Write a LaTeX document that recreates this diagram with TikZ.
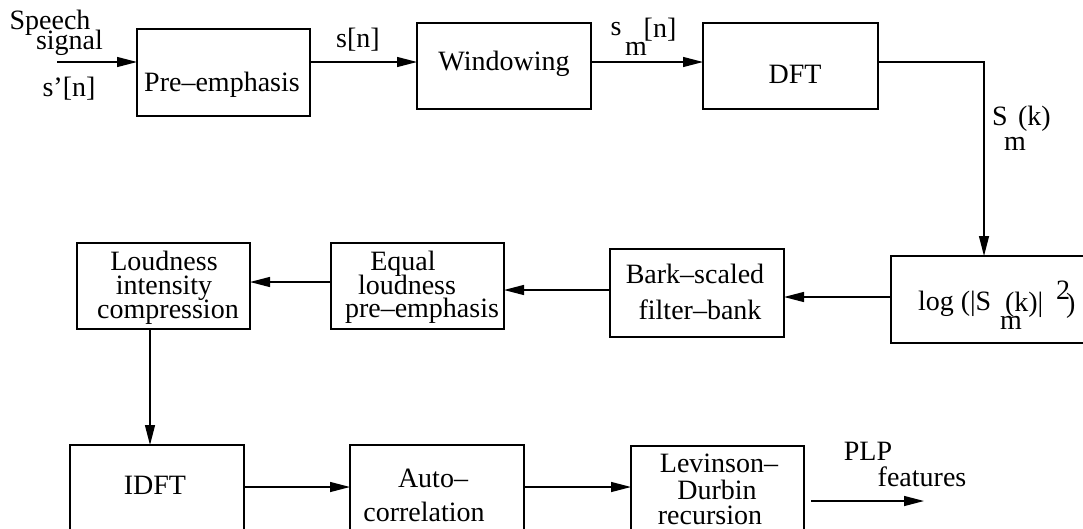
\documentclass[tikz,border=0pt]{standalone}
\usepackage{fontspec}
\setmainfont{Liberation Serif}
\usetikzlibrary{arrows.meta}
\begin{document}
\begin{tikzpicture}[x=1pt,y=-1pt,
  box/.style={draw, line width=1.3pt, inner sep=0pt, outer sep=0pt},
  lbl/.style={inner sep=0pt, outer sep=0pt, anchor=base, font=\fontsize{28pt}{30pt}\selectfont},
  lblw/.style={lbl, anchor=base west},
  flow/.style={line width=1.3pt, -{Triangle[length=20pt,width=10pt]}}]
\clip (0,0) rectangle (1083,528);

% processing blocks
\node[box, minimum width=173pt, minimum height=87pt] (pre)   at (223.5,72.5) {};
\node[box, minimum width=174pt, minimum height=86pt] (win)   at (504,66) {};
\node[box, minimum width=175pt, minimum height=86pt] (dft)   at (790.5,66) {};
\node[box, minimum width=209pt, minimum height=87pt] (logb)  at (995.5,299.5) {};
\node[box, minimum width=174pt, minimum height=88pt] (bark)  at (697,293) {};
\node[box, minimum width=173pt, minimum height=86pt] (equal) at (417.5,286) {};
\node[box, minimum width=173pt, minimum height=86pt] (loud)  at (163.5,286) {};
\node[box, minimum width=174pt, minimum height=92pt] (idft)  at (157,491) {};
\node[box, minimum width=174pt, minimum height=92pt] (acorr) at (437,491) {};
\node[box, minimum width=173pt, minimum height=92pt] (lev)   at (717.5,492) {};

% block texts
\node[lbl] (tpre) at (222,91) {Pre–emphasis};
\node[lbl] (twin) at (504,70) {Windowing};
\node[lbl] (tdft) at (795,83) {DFT};
\node[lblw] (tlog1) at (918,310) {log (|S};
\node[lblw] (tlog2) at (1000,329) {m};
\node[lblw] (tlog3) at (1005,311) {(k)|};
\node[lblw] (tlog4) at (1056,299) {2};
\node[lblw] (tlog5) at (1066,312) {)};
\node[lbl] (tbark1) at (695,283) {Bark–scaled};
\node[lbl] (tbark2) at (700,319) {filter–bank};
\node[lbl] (teq1) at (403,270) {Equal};
\node[lbl] (teq2) at (407,294) {loudness};
\node[lbl] (teq3) at (422,317) {pre–emphasis};
\node[lbl] (tld1) at (164,270) {Loudness};
\node[lbl] (tld2) at (164,294) {intensity};
\node[lbl] (tld3) at (168,318) {compression};
\node[lbl] (tidft) at (155,494) {IDFT};
\node[lbl] (tac1) at (433,487) {Auto–};
\node[lbl] (tac2) at (424,521) {correlation};
\node[lbl] (tlev1) at (719,472) {Levinson–};
\node[lbl] (tlev2) at (717,499) {Durbin};
\node[lbl] (tlev3) at (710,524) {recursion};

% signal labels
\node[lbl] (lsp1) at (50,29) {Speech};
\node[lbl] (lsp2) at (69.5,49) {signal};
\node[lbl] (lsp3) at (69,96) {s’[n]};
\node[lbl] (lsn) at (358,47) {s[n]};
\node[lbl] (lsm1) at (616,35) {s};
\node[lbl] (lsm2) at (636,55) {m};
\node[lbl] (lsm3) at (660,37) {[n]};
\node[lblw] (lSk1) at (992,125) {S};
\node[lbl] (lSk2) at (1015,150) {m};
\node[lblw] (lSk3) at (1018,125) {(k)};
\node[lbl] (lplp1) at (868,460) {PLP};
\node[lbl] (lplp2) at (922,486) {features};

% connectors
\coordinate (src) at (57,62);
\coordinate (turn) at (984,62);
\coordinate (r2) at (0,297);
\coordinate (r3) at (0,290);
\coordinate (r4) at (0,282);
\coordinate (c1) at (150,0);
\coordinate (r5) at (0,487);
\coordinate (o1) at (811,501);
\coordinate (o2) at (924,501);

\draw[flow] (src) -- (pre.west |- src);
\draw[flow] (pre.east |- src) -- (win.west |- src);
\draw[flow] (win.east |- src) -- (dft.west |- src);
\draw[flow] (dft.east |- turn) -- (turn) -- (turn |- logb.north);
\draw[flow] (logb.west |- r2) -- (bark.east |- r2);
\draw[flow] (bark.west |- r3) -- (equal.east |- r3);
\draw[flow] (equal.west |- r4) -- (loud.east |- r4);
\draw[flow] (loud.south -| c1) -- (idft.north -| c1);
\draw[flow] (idft.east |- r5) -- (acorr.west |- r5);
\draw[flow] (acorr.east |- r5) -- (lev.west |- r5);
\draw[flow] (o1) -- (o2);
\end{tikzpicture}
\end{document}
